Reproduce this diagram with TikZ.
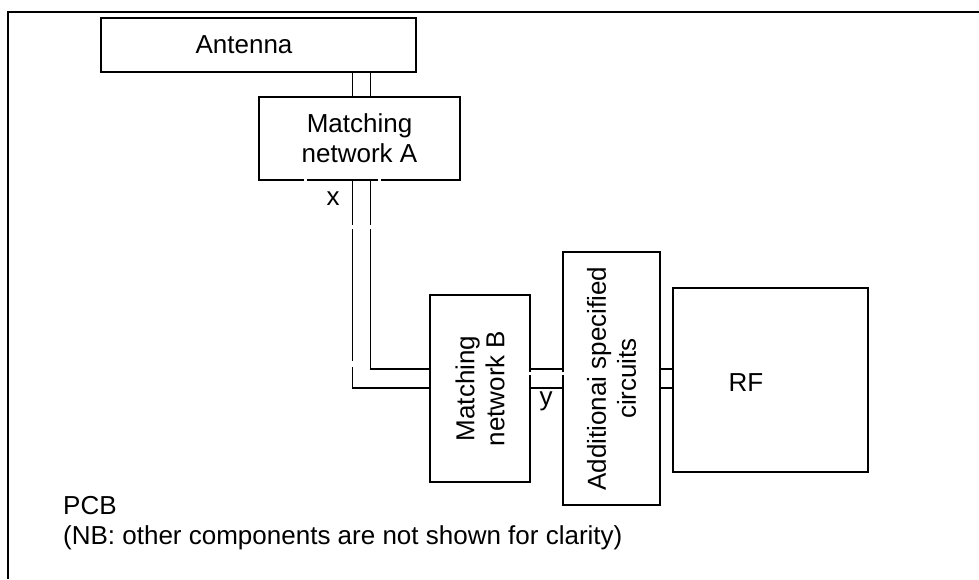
\documentclass[tikz,border=0pt]{standalone}
\usepackage{fontspec}
\setmainfont{Liberation Sans}
\begin{document}
\begin{tikzpicture}[x=1pt,y=-1pt,
  box/.style={draw,line width=1.3pt,inner sep=0pt,outer sep=0pt},
  lead/.style={line width=1.3pt},
  lbl/.style={font=\fontsize{26}{30}\selectfont,inner sep=0pt,align=center},
  gap/.style={fill=white}]
\useasboundingbox (0,0) rectangle (979,579);
% PCB frame (right and bottom edges lie outside the picture)
\draw[line width=2pt] (7.5,579) -- (7.5,12) -- (979,12);
% boxes
\node[box,minimum width=315pt,minimum height=54pt] (ant) at (258.5,45) {};
\node[lbl] (anttext) at (244,45) {Antenna};
\node[box,lbl,minimum width=201pt,minimum height=83pt] (mna) at (359.5,138.5) {Matching\\network A};
\node[box,minimum width=100pt,minimum height=187pt] (mnb) at (480,388.5) {};
\node[lbl,rotate=90] (mnbtext) at (480,388.5) {Matching\\network B};
\node[box,minimum width=97pt,minimum height=253pt] (add) at (611.5,378.5) {};
\node[lbl,rotate=90] (addtext) at (611.5,378.5) {Additionai specified\\circuits};
\node[box,minimum width=195pt,minimum height=184pt] (rf) at (770.5,380) {};
\node[lbl] (rftext) at (746,383) {RF};
% lead positions
\coordinate (xa) at (352.5,0);
\coordinate (xb) at (370.7,0);
\coordinate (ya) at (0,369);
\coordinate (yb) at (0,388);
% antenna to matching network A
\draw[lead] (xa |- ant.south) -- (xa |- mna.north);
\draw[lead] (xb |- ant.south) -- (xb |- mna.north);
% matching network A to matching network B
\draw[lead] (xa |- mna.south) -- (xa |- yb) -- (yb -| mnb.west);
\draw[lead] (xb |- mna.south) -- (xb |- ya) -- (ya -| mnb.west);
% matching network B to additional circuits
\draw[lead] (ya -| mnb.east) -- (ya -| add.west);
\draw[lead] (yb -| mnb.east) -- (yb -| add.west);
% additional circuits to RF
\draw[lead] (ya -| add.east) -- (ya -| rf.west);
\draw[lead] (yb -| add.east) -- (yb -| rf.west);
% reference plane marks
\fill[gap] (304,178) rectangle (306.5,182.5);
\fill[gap] (378,178) rectangle (380.5,182.5);
\fill[gap] (350,225) rectangle (373,228.5);
\fill[gap] (350,361) rectangle (355,367);
\fill[gap] (528,372) rectangle (532,375);
\fill[gap] (561,372) rectangle (565,375);
\node[lbl] (xlabel) at (333,199) {x};
\node[lbl] (ylabel) at (546,401) {y};
% note
\node[lbl,align=left,anchor=north west] (note) at (63,496) {PCB\\(NB: other components are not shown for clarity)};
\end{tikzpicture}
\end{document}
